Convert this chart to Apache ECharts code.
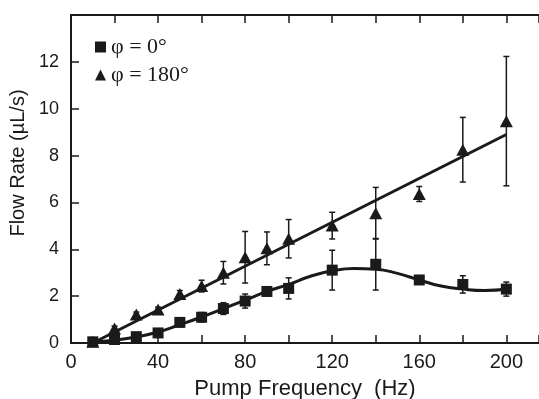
<!DOCTYPE html>
<html>
<head>
<meta charset="utf-8">
<script src="https://cdn.jsdelivr.net/npm/echarts@6/dist/echarts.min.js"></script>
<style>
  html, body { margin: 0; padding: 0; background: #fff; }
  #main { width: 539px; height: 399px; }
</style>
</head>
<body>
<div id="main"></div>
<script>
// measured points (Hz, uL/s)
var freq = [10, 20, 30, 40, 50, 60, 70, 80, 90, 100, 120, 140, 160, 180, 200];
var sq = [0.05, 0.15, 0.27, 0.43, 0.88, 1.1, 1.47, 1.79, 2.2, 2.33, 3.11, 3.36, 2.69, 2.5, 2.3];
var sqErr = [0.05, 0.05, 0.08, 0.1, 0.18, 0.2, 0.25, 0.3, 0.1, 0.45, 0.85, 1.1, 0.15, 0.37, 0.3];
var tri = [0.05, 0.62, 1.22, 1.43, 2.09, 2.43, 3.0, 3.66, 4.04, 4.45, 5.01, 5.54, 6.36, 8.25, 9.47];
var triErr = [0.05, 0.1, 0.1, 0.1, 0.15, 0.25, 0.48, 1.1, 0.7, 0.82, 0.57, 1.1, 0.32, 1.38, 2.76];

// fitted curves
var lineX = [10, 200];
var lineY = [0.0, 8.9];
var curveX = [10, 20, 30, 40, 50, 60, 70, 80, 90, 100, 110, 120, 130, 140, 150, 160, 170, 180, 190, 200];
var curveY = [0.05, 0.12, 0.26, 0.47, 0.78, 1.11, 1.47, 1.83, 2.2, 2.5, 2.85, 3.08, 3.18, 3.15, 2.97, 2.69, 2.43, 2.3, 2.24, 2.29];

var names = ['φ = 0°', 'φ = 180°'];
var ink = '#1a1a1a';

function pairs(xs, ys) {
    return xs.map(function (x, i) { return [x, ys[i]]; });
}
function errData(xs, ys, es) {
    return xs.map(function (x, i) { return [x, ys[i] - es[i], ys[i] + es[i]]; });
}
function errorBar(params, api) {
    var lo = api.coord([api.value(0), api.value(1)]);
    var hi = api.coord([api.value(0), api.value(2)]);
    var w = 3;
    var st = { stroke: ink, lineWidth: 1.5 };
    return {
        type: 'group',
        children: [
            { type: 'line', shape: { x1: lo[0], y1: lo[1], x2: hi[0], y2: hi[1] }, style: st },
            { type: 'line', shape: { x1: lo[0] - w, y1: lo[1], x2: lo[0] + w, y2: lo[1] }, style: st },
            { type: 'line', shape: { x1: hi[0] - w, y1: hi[1], x2: hi[0] + w, y2: hi[1] }, style: st }
        ]
    };
}

var chart = echarts.init(document.getElementById('main'));
var axisLine = { show: true, lineStyle: { color: ink, width: 2 } };
var tick = { show: true, inside: true, length: 8, lineStyle: { color: ink, width: 1.5 } };

var option = {
    animation: false,
    grid: { left: 71, right: 0, top: 15, bottom: 56, outerBoundsMode: 'none' },
    legend: {
        data: [{ name: names[0], icon: 'rect' }, { name: names[1], icon: 'triangle' }],
        orient: 'vertical',
        left: 90,
        top: 31,
        itemWidth: 11,
        itemHeight: 11,
        itemGap: 6,
        textStyle: { fontFamily: 'Liberation Serif', fontSize: 22, color: ink, lineHeight: 22 }
    },
    xAxis: [{
        type: 'value',
        min: 0,
        max: 215,
        interval: 20,
        axisLine: axisLine,
        axisTick: tick,
        splitLine: { show: false },
        axisLabel: {
            color: ink,
            fontFamily: 'Liberation Sans',
            fontSize: 20,
            margin: 9,
            formatter: function (v) { return v % 40 === 0 ? v : ''; }
        },
        name: 'Pump Frequency  (Hz)',
        nameLocation: 'middle',
        nameGap: 35,
        nameTextStyle: { color: ink, fontFamily: 'Liberation Sans', fontSize: 22 }
    }, {
        type: 'value',
        position: 'top',
        min: 0,
        max: 215,
        interval: 20,
        axisLine: axisLine,
        axisTick: tick,
        axisLabel: { show: false },
        splitLine: { show: false }
    }],
    yAxis: {
        type: 'value',
        min: 0,
        max: 14,
        interval: 2,
        axisLine: axisLine,
        axisTick: tick,
        splitLine: { show: false },
        axisLabel: {
            color: ink,
            fontFamily: 'Liberation Sans',
            fontSize: 18,
            margin: 12,
            padding: [8, 0, 0, 0],
            formatter: function (v) { return v === 14 ? '' : v; }
        },
        name: 'Flow Rate (µL/s)',
        nameLocation: 'middle',
        nameGap: 31,
        nameTextStyle: { color: ink, fontFamily: 'Liberation Sans', fontSize: 20, padding: [0, 0, 0, 32] }
    },
    series: [
        {
            type: 'line',
            data: pairs(lineX, lineY),
            symbol: 'none',
            lineStyle: { color: ink, width: 3 },
            z: 2
        },
        {
            type: 'line',
            data: pairs(curveX, curveY),
            smooth: 0.5,
            symbol: 'none',
            lineStyle: { color: ink, width: 3 },
            z: 2
        },
        {
            type: 'custom',
            renderItem: errorBar,
            data: errData(freq, sq, sqErr),
            encode: { x: 0, y: [1, 2] },
            z: 3
        },
        {
            type: 'custom',
            renderItem: errorBar,
            data: errData(freq, tri, triErr),
            encode: { x: 0, y: [1, 2] },
            z: 3
        },
        {
            name: names[0],
            type: 'scatter',
            data: pairs(freq, sq),
            symbol: 'rect',
            symbolSize: 11,
            itemStyle: { color: ink, opacity: 1 },
            z: 4
        },
        {
            name: names[1],
            type: 'scatter',
            data: pairs(freq, tri),
            symbol: 'triangle',
            symbolSize: [13, 12],
            itemStyle: { color: ink, opacity: 1 },
            z: 4
        }
    ]
};
chart.setOption(option);
</script>
</body>
</html>
